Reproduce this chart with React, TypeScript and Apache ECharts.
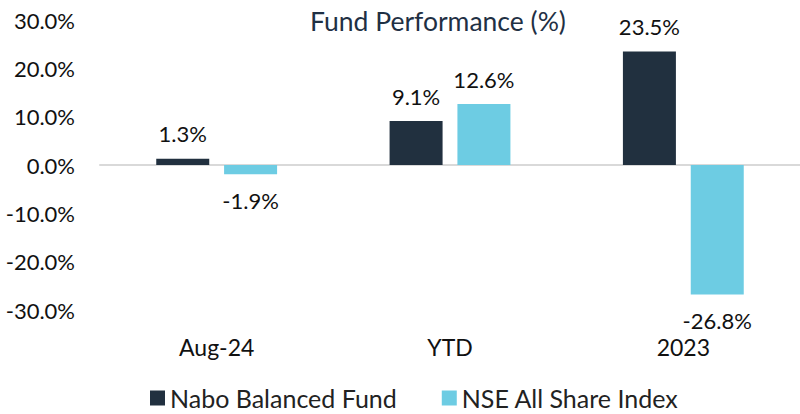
import React, { useEffect, useRef } from "react";
import * as echarts from "echarts";

const categories = ["Aug-24", "YTD", "2023"];
const naboValues = [1.3, 9.1, 23.5];
const nseValues = [-1.9, 12.6, -26.8];
const seriesNames = ["Nabo Balanced Fund", "NSE All Share Index"];
const titleText = "Fund Performance (%)";

const FONT = "Lato";

function mkData(vals: number[]) {
  return vals.map((v) => ({
    value: v,
    label: {
      position: v >= 0 ? "top" : "bottom",
      distance: v >= 0 ? 15 : 16,
    },
  }));
}

export default function App() {
  const ref = useRef<HTMLDivElement>(null);
  useEffect(() => {
    if (!ref.current) return;
    const chart = echarts.init(ref.current, undefined, { renderer: "svg" });
    const labelCommon = {
      show: true,
      fontFamily: FONT,
      fontSize: 22,
      lineHeight: 20,
      color: "#111111",
      formatter: (p: any) => `${Number(p.value).toFixed(1)}%`,
    };
    chart.setOption({
      animation: false,
      title: {
        text: titleText,
        left: 433,
        textAlign: "center",
        top: 2,
        textStyle: { fontFamily: FONT, fontSize: 26.5, fontWeight: "normal", color: "#1F3044" },
      },
      legend: {
        left: 145,
        top: 380,
        itemWidth: 15,
        itemHeight: 15,
        itemGap: 45,
        icon: "rect",
        textStyle: { fontFamily: FONT, fontSize: 25, lineHeight: 26, color: "#222222" },
        data: seriesNames,
      },
      grid: { left: 100, width: 708, top: 20, bottom: 104, containLabel: false },
      xAxis: [
        {
          type: "category",
          data: categories,
          position: "bottom",
          axisLine: { show: false, onZero: false },
          axisTick: { show: false },
          axisLabel: { fontFamily: FONT, fontSize: 23, lineHeight: 20, color: "#111111", margin: 27 },
        },
        {
          type: "category",
          data: categories,
          position: "bottom",
          axisLine: { show: true, onZero: true, lineStyle: { color: "#D9D9D9", width: 2 } },
          axisTick: { show: false },
          axisLabel: { show: false },
        },
      ],
      yAxis: {
        type: "value",
        min: -30,
        max: 30,
        interval: 10,
        splitLine: { show: false },
        axisLine: { show: false },
        axisTick: { show: false },
        axisLabel: {
          fontFamily: FONT,
          fontSize: 22,
          color: "#111111",
          margin: 25,
          formatter: (v: number) => `${v.toFixed(1)}%`,
        },
      },
      series: [
        {
          name: seriesNames[0],
          type: "bar",
          xAxisIndex: 0,
          data: mkData(naboValues),
          barWidth: 53,
          barGap: "28%",
          itemStyle: { color: "#21303F" },
          label: labelCommon,
        },
        {
          name: seriesNames[1],
          type: "bar",
          xAxisIndex: 0,
          data: mkData(nseValues),
          barWidth: 53,
          barGap: "28%",
          itemStyle: { color: "#6DCCE3" },
          label: labelCommon,
        },
      ],
    });
    return () => chart.dispose();
  }, []);
  return (
    <div
      ref={ref}
      style={{ position: "absolute", left: 0, top: 0, width: 800, height: 414 }}
    />
  );
}
